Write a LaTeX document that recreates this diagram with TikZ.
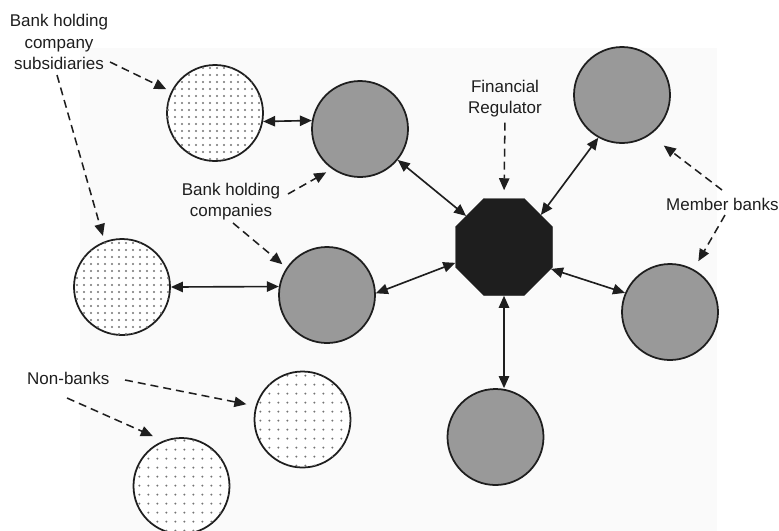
\documentclass[tikz,border=0pt]{standalone}
\usepackage{fontspec}
\setmainfont{Liberation Sans}
\usetikzlibrary{shapes.geometric,arrows.meta,patterns.meta}
\definecolor{BgGray}{RGB}{250,250,250}
\definecolor{InkGray}{RGB}{30,30,30}

\begin{document}
\begin{tikzpicture}[
x=0.3mm,y=-0.3mm,
disc/.style={circle,draw=InkGray,line width=1.5pt,minimum size=28.8mm,inner sep=0pt},
bank/.style={disc,fill=black!40},
sub/.style={disc,fill=white,postaction={pattern color=black!55,pattern={Dots[distance=2.1mm,radius=0.33mm]}}},
nonbank/.style={disc,fill=white,postaction={pattern color=black!55,pattern={Dots[distance=2.8mm,radius=0.33mm]}}},
reg/.style={regular polygon,regular polygon sides=8,fill=InkGray,draw=InkGray,minimum size=31.5mm,inner sep=0pt},
tag/.style={font=\fontsize{14.5}{18}\selectfont,align=center,text=InkGray,inner sep=0pt},
link/.style={{Triangle[length=3.6mm,width=3.1mm]}-{Triangle[length=3.6mm,width=3.1mm]},line width=1.4pt,draw=InkGray},
pointer/.style={-{Triangle[length=3.6mm,width=3.1mm]},line width=1.3pt,draw=InkGray,dash pattern=on 2.4mm off 1.5mm}
]
\useasboundingbox (0,0) rectangle (779,530);
\fill[BgGray] (80,48) rectangle (717,535);

\node[sub] (subA) at (215,113) {};
\node[bank] (bhcA) at (360,129) {};
\node[reg] (fr) at (504,247) {};
\node[bank] (memA) at (622,95) {};
\node[bank] (memB) at (670,312) {};
\node[bank] (memC) at (495.5,437) {};
\node[bank] (bhcB) at (327,295) {};
\node[sub] (subB) at (122,287) {};
\node[nonbank] (nbA) at (302.5,419.5) {};
\node[nonbank] (nbB) at (181.5,486) {};

\node[tag] (tSub) at (59,42) {Bank holding\\company\\subsidiaries};
\node[tag] (tBhc) at (231,202) {Bank holding\\companies};
\node[tag] (tFr) at (505,99) {Financial\\Regulator};
\node[tag,anchor=west] (tMem) at (666,204) {Member banks};
\node[tag,anchor=west] (tNon) at (27,378) {Non-banks};

\coordinate (pSubA) at (110,62);
\coordinate (pSubB) at (57,75);
\coordinate (pBhcA) at (288,194);
\coordinate (pBhcB) at (233,223);
\coordinate (pMemA) at (722,190);
\coordinate (pMemB) at (725,215);
\coordinate (pNbA) at (125,380);
\coordinate (pNbB) at (67,398);

\draw[link] (subA.-10) -- (bhcA.170);
\draw[link] (bhcA) -- (fr);
\draw[link] (fr.41) -- (memA.-119);
\draw[link] (fr.-162) -- (bhcB.2);
\draw[link] (subB.east) -- (bhcB.170);
\draw[link] (fr.-25) -- (memB.157);
\draw[link] (fr.south) -- (fr.south |- memC.north);

\draw[pointer,shorten >=1.6mm] (pSubA) -- (subA.154);
\draw[pointer,shorten >=1.7mm] (pSubB) -- (subB.111);
\draw[pointer,shorten >=2mm] (pBhcA) -- (bhcA.-125);
\draw[pointer,shorten >=1.6mm] (pBhcB) -- (bhcB.146);
\draw[pointer,shorten <=1.5mm,shorten >=2.4mm] (tFr.south) -- (fr.north);
\draw[pointer,shorten >=5.2mm] (pMemA) -- (memA.-55);
\draw[pointer,shorten >=2.8mm] (pMemB) -- (memB.61);
\draw[pointer,shorten >=2.8mm] (pNbA) -- (nbA.164);
\draw[pointer,shorten >=3.4mm] (pNbB) -- (nbB.112);
\end{tikzpicture}
\end{document}
